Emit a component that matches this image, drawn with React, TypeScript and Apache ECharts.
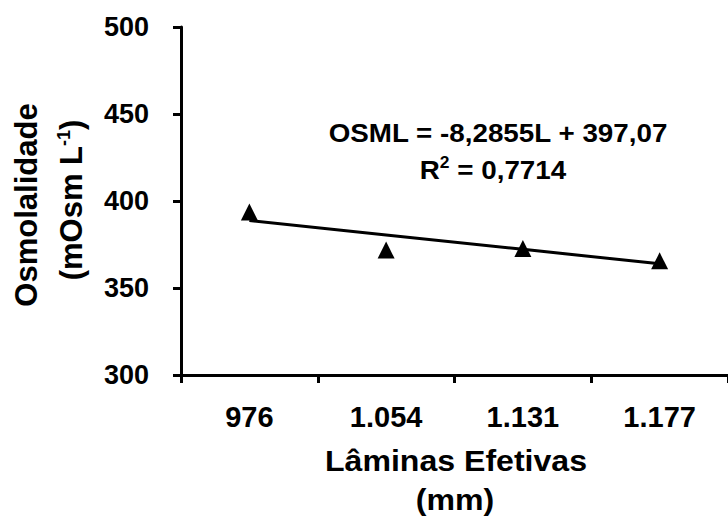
import React, { useEffect, useRef } from "react";
import * as echarts from "echarts";

const categories = ["976", "1.054", "1.131", "1.177"];
const osmolality = [393.7, 371.8, 372.7, 365.6];
const trendSlope = -8.2855;
const trendIntercept = 397.07;
const yTicks = { min: 300, max: 500, interval: 50 };
const equationText = "OSML = -8,2855L + 397,07";
const r2Value = "0,7714";

const FONT = "'Liberation Sans', Arial, sans-serif";

export default function App() {
  const ref = useRef<HTMLDivElement>(null);
  useEffect(() => {
    document.body.style.margin = "0";
    if (!ref.current) return;
    const chart = echarts.init(ref.current, undefined, { renderer: "svg" });
    const trend = categories.map((_, i) => trendIntercept + trendSlope * (i + 1));
    chart.setOption({
      animation: false,
      backgroundColor: "#ffffff",
      grid: { left: 181, top: 27, width: 554, height: 348 },
      xAxis: {
        type: "category",
        data: categories,
        boundaryGap: true,
        axisLine: { lineStyle: { color: "#000", width: 3 } },
        axisTick: { show: true, length: 8, lineStyle: { color: "#000", width: 3 } },
        axisLabel: { color: "#000", fontFamily: FONT, fontWeight: "bold", fontSize: 29, margin: 27 },
        splitLine: { show: false },
      },
      yAxis: {
        type: "value",
        min: yTicks.min,
        max: yTicks.max,
        interval: yTicks.interval,
        axisLine: { show: true, lineStyle: { color: "#000", width: 3 } },
        axisTick: { show: true, length: 8, lineStyle: { color: "#000", width: 3 } },
        axisLabel: { color: "#000", fontFamily: FONT, fontWeight: "bold", fontSize: 27, margin: 32 },
        splitLine: { show: false },
      },
      series: [
        {
          type: "line",
          data: trend,
          symbol: "none",
          lineStyle: { color: "#000", width: 3 },
          z: 2,
        },
        {
          type: "scatter",
          data: osmolality,
          symbol: "triangle",
          symbolSize: [17, 17],
          itemStyle: { color: "#000", opacity: 1 },
          z: 3,
        },
      ],
      graphic: [
        {
          type: "text",
          x: 26,
          y: 205,
          rotation: Math.PI / 2,
          style: {
            text: "Osmolalidade",
            font: `bold 31px ${FONT}`,
            fill: "#000",
            align: "center",
            verticalAlign: "middle",
          },
        },
        {
          type: "text",
          x: 71,
          y: 200,
          rotation: Math.PI / 2,
          style: {
            text: "(mOsm L{sup|-1})",
            font: `bold 31px ${FONT}`,
            fill: "#000",
            align: "center",
            verticalAlign: "middle",
            rich: {
              sup: { font: `bold 18px ${FONT}`, fill: "#000", verticalAlign: "top", padding: [0, 0, 14, 0] },
            },
          },
        },
        {
          type: "text",
          x: 456,
          y: 461,
          scaleX: 1.07,
          style: {
            text: "Lâminas Efetivas",
            font: `bold 30px ${FONT}`,
            fill: "#000",
            align: "center",
            verticalAlign: "middle",
          },
        },
        {
          type: "text",
          x: 455,
          y: 500,
          scaleX: 1.07,
          style: {
            text: "(mm)",
            font: `bold 30px ${FONT}`,
            fill: "#000",
            align: "center",
            verticalAlign: "middle",
          },
        },
        {
          type: "text",
          x: 498,
          y: 133,
          scaleX: 1.09,
          style: {
            text: equationText,
            font: `bold 25.5px ${FONT}`,
            fill: "#000",
            align: "center",
            verticalAlign: "middle",
          },
        },
        {
          type: "text",
          x: 493,
          y: 170,
          scaleX: 1.09,
          style: {
            text: "R{sup|2} = " + r2Value,
            font: `bold 25.5px ${FONT}`,
            fill: "#000",
            align: "center",
            verticalAlign: "middle",
            rich: {
              sup: { font: `bold 16px ${FONT}`, fill: "#000", padding: [0, 0, 14, 0] },
            },
          },
        },
      ],
    });
    return () => chart.dispose();
  }, []);
  return <div ref={ref} style={{ width: 728, height: 519 }} />;
}
